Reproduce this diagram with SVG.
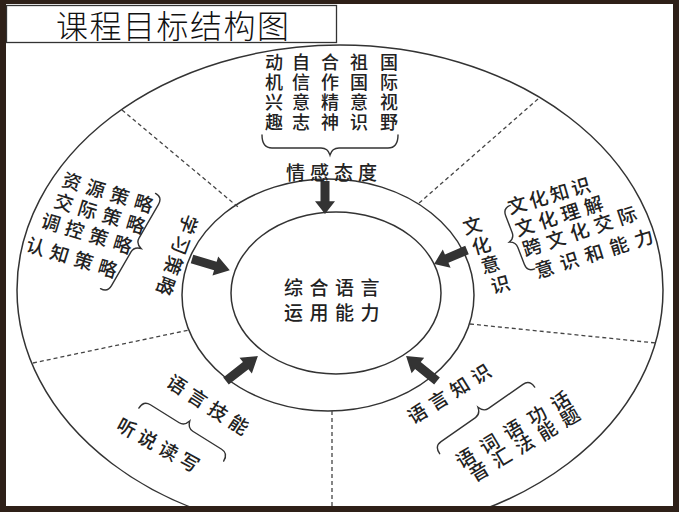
<svg xmlns="http://www.w3.org/2000/svg" width="679" height="512" viewBox="0 0 679 512">
<style>
.t{font-family:"Noto Sans CJK SC","Noto Sans CJK JP",sans-serif;fill:#222;font-size:19px;font-weight:500;}
.c{dominant-baseline:central;text-anchor:middle;}
.col{font-size:18px;}
.ln{fill:none;stroke:#333;stroke-width:1.5;}
.dash{fill:none;stroke:#444;stroke-width:1.3;stroke-dasharray:4 3;}
.br{fill:none;stroke:#333;stroke-width:1.4;stroke-linecap:round;}
.ar{fill:#333;}
</style>
<defs>
<path id="arr" d="M0,-4.5 L21,-4.5 L21,-10 L34,0 L21,10 L21,4.5 L0,4.5 Z"/>
</defs>
<rect x="0" y="0" width="679" height="512" fill="#fff"/>
<g id="rings">
<ellipse class="ln" cx="340" cy="290" rx="323" ry="245"/>
<ellipse class="ln" cx="328" cy="295" rx="146" ry="116"/>
</g>
<g id="connectors">
<line class="dash" x1="122" y1="110" x2="238" y2="207"/>
<line class="dash" x1="538" y1="99" x2="418" y2="204"/>
<line class="dash" x1="33" y1="363" x2="189" y2="330"/>
<line class="dash" x1="470" y1="324" x2="656" y2="343"/>
<line class="dash" x1="332" y1="411" x2="332" y2="506"/>
<use href="#arr" class="ar" transform="translate(325,181) rotate(90) scale(0.97,1)"/>
<use href="#arr" class="ar" transform="translate(192,259) rotate(16.6) scale(1.16,1)"/>
<use href="#arr" class="ar" transform="translate(467,250) rotate(157) scale(1.05,1)"/>
<use href="#arr" class="ar" transform="translate(226,381) rotate(-38) scale(1.19,1)"/>
<use href="#arr" class="ar" transform="translate(437,381) rotate(-141) scale(1.17,1)"/>
</g>
<g id="center">
<ellipse class="ln" cx="336" cy="293" rx="105" ry="81" fill="#fff"/>
<text class="t c" x="335" y="286" font-size="23" letter-spacing="6.5">综合语言</text>
<text class="t c" x="335" y="311" font-size="23" letter-spacing="6.5">运用能力</text>
</g>
<g id="top">
<text class="t c col" x="274 274 274 274" y="61 81 101 121">动机兴趣</text>
<text class="t c col" x="301 301 301 301" y="61 81 101 121">自信意志</text>
<text class="t c col" x="330 330 330 330" y="61 81 101 121">合作精神</text>
<text class="t c col" x="359 359 359 359" y="61 81 101 121">祖国意识</text>
<text class="t c col" x="389 389 389 389" y="61 81 101 121">国际视野</text>
<path class="br" transform="translate(330,148) rotate(180)" d="M-68,13 Q-68,0 -58,0 L-9,0 Q-2,0 0,-7 Q2,0 9,0 L58,0 Q68,0 68,13"/>
<text class="t c" x="334" y="171" letter-spacing="5">情感态度</text>
</g>
<g id="right">
<text class="t c" x="472" y="224" transform="rotate(-15 472 224)">文</text>
<text class="t c" x="481" y="244" transform="rotate(-15 481 244)">化</text>
<text class="t c" x="490" y="263" transform="rotate(-15 490 263)">意</text>
<text class="t c" x="500" y="283" transform="rotate(-15 500 283)">识</text>
<path class="br" transform="translate(515,240) rotate(249)" d="M-34,8 Q-34,0 -26,0 L-8,0 Q-2,0 0,-6 Q2,0 8,0 L26,0 Q34,0 34,8"/>
<text class="t c" x="550" y="194" letter-spacing="3" transform="rotate(-16 550 194)">文化知识</text>
<text class="t c" x="561" y="214" letter-spacing="5" transform="rotate(-17.6 561 214)">文化理解</text>
<text class="t c" x="582" y="229" letter-spacing="6" transform="rotate(-18.4 582 229)">跨文化交际</text>
<text class="t c" x="597" y="251" letter-spacing="7" transform="rotate(-17.3 597 251)">意识和能力</text>
</g>
<g id="left">
<text class="t c" font-size="18" x="178" y="257" letter-spacing="2.8" transform="rotate(110 178 257)">学习策略</text>
<path class="br" transform="translate(135,245) rotate(120)" d="M-55,8 Q-55,0 -47,0 L-8,0 Q-2,0 0,-7 Q2,0 8,0 L47,0 Q55,0 55,8"/>
<text class="t c" x="111" y="192" letter-spacing="6" transform="rotate(17 111 192)">资源策略</text>
<text class="t c" x="103" y="213" letter-spacing="6" transform="rotate(17 103 213)">交际策略</text>
<text class="t c" x="90" y="233" letter-spacing="6" transform="rotate(17 90 233)">调控策略</text>
<text class="t c" x="75" y="257" letter-spacing="6" transform="rotate(17 75 257)">认知策略</text>
</g>
<g id="bottom-left">
<text class="t c" x="211" y="405" letter-spacing="5.6" transform="rotate(33 211 405)">语言技能</text>
<path class="br" transform="translate(186,427) rotate(32)" d="M-50,9 Q-50,0 -42,0 L-8,0 Q-2,0 0,-7 Q2,0 8,0 L42,0 Q50,0 50,9"/>
<text class="t c" x="161" y="445" letter-spacing="5" transform="rotate(29 161 445)">听说读写</text>
</g>
<g id="bottom-right">
<text class="t c" x="451" y="391" letter-spacing="6" transform="rotate(-32 451 391)">语言知识</text>
<path class="br" transform="translate(482,413) rotate(-35)" d="M-58,9 Q-58,0 -50,0 L-8,0 Q-2,0 0,-7 Q2,0 8,0 L50,0 Q58,0 58,9"/>
<text class="t c" x="516" y="426" letter-spacing="8.7" transform="rotate(-31 516 426)">语词语功话</text>
<text class="t c" x="527" y="441" letter-spacing="7.5" transform="rotate(-31 527 441)">音汇法能题</text>
</g>
<g id="title">
<rect x="6.5" y="5.5" width="330" height="37" fill="#fff" stroke="#333" stroke-width="1.3"/>
<text x="56" y="38" font-family="Noto Sans CJK SC, sans-serif" font-weight="300" font-size="32" letter-spacing="1.5" fill="#111">课程目标结构图</text>
</g>
<path id="frame" fill="#2e2018" fill-rule="evenodd" d="M0,0 H679 V512 H0 Z M6,4 V506 H673 V4 Z"/>
</svg>
